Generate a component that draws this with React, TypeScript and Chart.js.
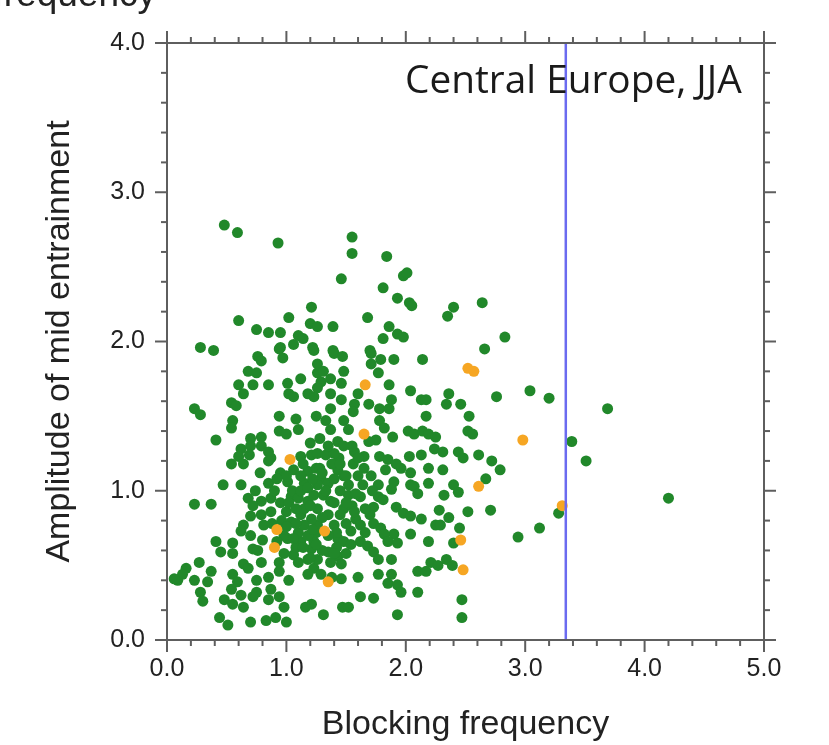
import React, { useEffect, useRef } from 'react';
import { Chart, registerables } from 'chart.js';
Chart.register(...registerables);

// ---- axis / label data ----
const xMajorTicks = [0, 1, 2, 3, 4, 5];
const yMajorTicks = [0, 1, 2, 3, 4];
const minorStep = 0.2;
const thresholdX = 3.34;
const regionLabel = 'Central Europe, JJA';
const xTitle = 'Blocking frequency';
const yTitle = 'Amplitude of mid entrainment';
const clippedTopText = 'Blocking frequency';

type P = [number, number];

// ---- series (x = blocking frequency, y = amplitude) ----
const orangePoints: P[] = [
  [1.03, 1.21], [0.92, 0.74], [0.90, 0.62], [1.66, 1.71], [1.65, 1.38], [2.52, 1.82],
  [2.57, 1.80], [1.32, 0.73], [1.35, 0.39], [2.46, 0.67], [2.48, 0.47], [2.61, 1.03],
  [3.31, 0.90], [2.98, 1.34],
];

const greenUpper: P[] = [
  [0.48, 2.78], [0.59, 2.73], [0.93, 2.66], [1.55, 2.70], [1.55, 2.59], [1.84, 2.57],
  [1.46, 2.42], [1.98, 2.44], [2.01, 2.46], [1.81, 2.36], [1.93, 2.29], [2.03, 2.26],
  [2.05, 2.24], [2.40, 2.23], [2.35, 2.17], [2.64, 2.26], [1.21, 2.23], [0.60, 2.14],
  [1.02, 2.16], [0.75, 2.08], [0.85, 2.06], [0.95, 2.06], [1.20, 2.12], [1.26, 2.10],
  [1.10, 2.04], [1.14, 2.02], [0.28, 1.96], [0.39, 1.94], [0.95, 1.96], [1.06, 1.98],
  [1.22, 1.96], [1.68, 2.16], [1.39, 2.10], [1.86, 2.10], [1.93, 2.05], [1.98, 2.03],
  [1.81, 2.02], [1.39, 1.94], [1.70, 1.94], [2.83, 2.03], [2.66, 1.95],
];

const greenMidLeft: P[] = [
  [0.76, 1.90], [0.79, 1.87], [0.94, 1.95], [0.97, 1.89], [0.68, 1.80], [0.75, 1.79],
  [1.26, 1.79], [0.60, 1.71], [0.72, 1.71], [0.85, 1.71], [1.01, 1.72], [1.12, 1.75],
  [0.64, 1.65], [1.02, 1.65], [1.06, 1.63], [1.18, 1.65], [0.54, 1.59], [0.58, 1.57],
  [0.23, 1.55], [0.28, 1.51], [0.94, 1.50], [1.08, 1.48], [0.55, 1.47], [0.54, 1.42],
  [0.94, 1.40], [1.00, 1.38], [1.10, 1.41], [0.70, 1.35], [0.79, 1.36], [0.41, 1.34],
  [0.62, 1.28], [0.70, 1.30], [0.79, 1.30], [0.85, 1.26], [0.60, 1.23], [0.69, 1.24],
  [0.87, 1.22], [1.12, 1.23], [1.21, 1.24], [0.54, 1.18], [0.64, 1.18], [0.85, 1.20],
  [0.95, 1.12], [1.06, 1.14], [1.18, 1.13], [0.47, 1.04], [0.62, 1.04], [0.85, 1.05],
  [1.01, 1.06], [1.15, 1.05],
];

const greenMidRight: P[] = [
  [1.23, 1.94], [1.40, 1.92], [1.47, 1.90], [1.71, 1.92], [1.79, 1.88], [1.71, 1.85],
  [1.90, 1.88], [2.14, 1.88], [1.26, 1.85], [1.31, 1.80], [1.48, 1.80], [1.77, 1.79],
  [1.29, 1.73], [1.37, 1.75], [1.46, 1.72], [1.86, 1.71], [1.60, 1.65], [2.04, 1.67],
  [2.13, 1.61], [2.17, 1.61], [2.36, 1.65], [2.34, 1.58], [2.46, 1.58], [1.26, 1.69],
  [1.37, 1.65], [1.23, 1.63], [1.46, 1.61], [1.37, 1.55], [1.57, 1.58], [1.69, 1.58],
  [1.78, 1.55], [1.88, 1.61], [1.86, 1.55], [2.17, 1.50], [1.56, 1.53], [1.25, 1.50],
  [1.33, 1.47], [1.37, 1.41], [1.48, 1.47], [1.52, 1.41], [1.43, 1.33], [1.78, 1.47],
  [1.82, 1.42], [1.89, 1.36], [1.75, 1.34], [2.02, 1.40], [2.07, 1.38], [2.14, 1.40],
  [2.19, 1.38], [2.25, 1.36], [1.57, 1.26], [1.69, 1.33], [1.26, 1.25], [1.33, 1.24],
  [1.44, 1.22], [1.56, 1.18], [1.65, 1.23], [1.78, 1.23], [1.85, 1.21], [1.92, 1.18],
  [2.03, 1.23], [2.13, 1.24], [2.24, 1.28], [2.31, 1.26], [2.44, 1.26], [2.48, 1.22],
  [1.25, 1.15], [1.29, 1.08], [1.43, 1.14], [1.48, 1.10], [1.65, 1.15], [1.71, 1.10],
  [1.83, 1.14], [1.96, 1.15], [2.04, 1.12], [2.19, 1.15], [2.31, 1.14], [2.04, 1.04],
  [2.19, 1.05], [1.90, 1.06], [1.77, 1.04], [2.52, 1.40], [2.53, 1.50], [2.76, 1.63],
  [2.56, 1.38], [2.61, 1.24], [2.72, 1.20], [2.79, 1.14], [2.67, 1.08],
];

const greenLowRight: P[] = [
  [1.64, 1.04], [1.88, 1.01], [2.07, 1.03], [2.10, 0.98], [1.52, 0.97], [1.62, 0.96],
  [1.77, 0.96], [1.81, 0.94], [1.48, 0.88], [1.73, 0.89], [1.70, 0.84], [1.92, 0.89],
  [1.98, 0.85], [2.04, 0.83], [2.13, 0.81], [2.28, 0.87], [1.58, 0.81], [1.62, 0.77],
  [1.73, 0.78], [1.79, 0.75], [1.90, 0.71], [2.04, 0.71], [2.25, 0.77], [1.54, 0.73],
  [1.82, 0.71], [1.85, 0.66], [1.93, 0.65], [2.19, 0.66], [1.43, 0.68], [1.48, 0.66],
  [1.54, 0.64], [1.62, 0.66], [1.68, 0.63], [1.73, 0.59], [1.77, 0.54], [1.43, 0.56],
  [1.46, 0.51], [1.88, 0.54], [2.21, 0.52], [2.27, 0.50], [2.34, 0.54], [2.10, 0.46],
  [2.17, 0.46], [1.77, 0.44], [1.88, 0.44], [1.60, 0.42], [1.46, 0.41], [1.23, 0.48],
  [1.29, 0.44], [1.38, 0.42], [1.85, 0.38], [1.93, 0.37], [1.96, 0.32], [2.10, 0.32],
  [1.62, 0.29], [1.73, 0.28], [1.47, 0.22], [1.52, 0.22], [1.31, 0.17], [1.93, 0.17],
  [1.21, 0.24], [1.26, 1.04], [1.31, 0.97], [1.37, 0.93], [1.26, 0.88], [1.35, 0.84],
  [1.40, 0.77], [1.26, 0.77], [1.23, 0.66], [1.35, 0.59], [1.26, 0.54], [1.37, 0.52],
  [2.40, 1.04], [2.44, 0.99], [2.32, 0.97], [2.36, 0.82], [2.52, 0.86], [2.71, 0.87],
  [2.45, 0.75], [2.40, 0.65], [2.29, 0.77], [2.39, 0.50], [2.47, 0.27], [2.47, 0.15],
];

const greenLowLeft: P[] = [
  [0.23, 0.91], [0.37, 0.91], [0.68, 0.95], [0.79, 0.93], [0.87, 0.95], [1.04, 0.96],
  [1.18, 0.93], [1.23, 0.97], [0.64, 0.77], [0.70, 0.83], [0.62, 0.73], [0.79, 0.84],
  [0.87, 0.86], [0.81, 0.77], [1.04, 0.79], [1.12, 0.84], [1.21, 0.81], [0.41, 0.66],
  [0.55, 0.65], [0.45, 0.59], [0.55, 0.58], [0.72, 0.61], [0.80, 0.67], [1.01, 0.68],
  [1.12, 0.66], [1.21, 0.61], [0.27, 0.52], [0.64, 0.51], [0.79, 0.52], [0.68, 0.48],
  [0.94, 0.52], [1.06, 0.57], [1.18, 0.54], [0.37, 0.46], [0.16, 0.48], [0.09, 0.40],
  [0.23, 0.40], [0.34, 0.39], [0.55, 0.44], [0.59, 0.39], [0.75, 0.40], [0.85, 0.42],
  [0.94, 0.46], [1.02, 0.40], [1.18, 0.44], [0.28, 0.32], [0.54, 0.34], [0.62, 0.30],
  [0.75, 0.32], [0.87, 0.34], [0.30, 0.26], [0.48, 0.27], [0.55, 0.24], [0.64, 0.22],
  [0.72, 0.29], [0.85, 0.27], [0.94, 0.29], [0.98, 0.22], [1.16, 0.22], [0.44, 0.15],
  [0.51, 0.10], [0.70, 0.12], [0.83, 0.13], [0.91, 0.15], [1.00, 0.12], [0.13, 0.44],
  [0.06, 0.41],
];

const greenDenseCore: P[] = [
  [1.05, 1.00], [1.10, 0.95], [1.15, 0.88], [1.20, 0.90], [1.25, 0.72], [1.10, 0.72],
  [1.00, 0.86], [1.15, 0.77], [1.30, 0.60], [1.20, 0.55], [1.08, 0.62], [1.28, 1.15],
  [1.35, 1.05], [1.45, 1.00], [1.40, 0.92], [1.45, 0.84], [1.38, 1.18], [1.50, 1.10],
  [1.12, 1.10], [1.00, 1.10], [0.96, 0.80], [0.98, 0.70], [1.06, 0.68], [1.18, 0.70],
  [1.30, 0.82], [1.42, 0.62], [1.50, 0.78], [1.55, 0.90], [1.60, 1.10], [1.55, 1.30],
  [1.48, 1.30], [1.40, 1.25],
  [0.90, 1.00], [0.95, 0.92], [1.02, 0.92], [1.08, 0.88], [1.12, 1.00], [1.18, 1.02],
  [1.22, 1.08], [1.30, 1.12], [1.33, 1.00], [1.40, 1.08], [1.45, 1.18], [1.52, 1.04],
  [1.58, 0.98], [1.57, 0.86], [1.50, 0.92], [1.42, 0.72], [1.35, 0.70], [1.22, 0.74],
  [1.14, 0.62], [1.08, 0.78], [1.00, 0.76], [0.92, 0.66], [0.98, 0.58], [1.10, 0.52],
  [1.25, 0.64], [1.40, 0.58], [1.50, 0.58], [1.66, 0.72], [1.66, 0.88], [1.72, 1.00],
  [1.60, 1.22], [1.35, 1.30], [1.28, 1.35], [1.20, 1.32], [1.14, 1.18], [0.92, 1.08],
  [0.78, 1.12], [0.74, 1.00], [0.72, 0.90], [0.88, 0.78], [0.70, 0.70], [0.76, 0.60],
];

const greenOutliers: P[] = [
  [4.20, 0.95], [3.69, 1.55], [3.51, 1.20], [3.39, 1.33], [3.20, 1.62], [3.04, 1.67],
  [3.28, 0.85], [3.12, 0.75], [2.94, 0.69],
];

const greenPoints: P[] = [
  ...greenUpper, ...greenMidLeft, ...greenMidRight, ...greenLowRight,
  ...greenLowLeft, ...greenDenseCore, ...greenOutliers,
];

const toXY = (arr: P[]) => arr.map(([x, y]) => ({ x, y }));

const FONT = "'Liberation Sans', Arial, Helvetica, sans-serif";

const framePlugin = {
  id: 'framePlugin',
  afterDraw(chart: any) {
    const { ctx, chartArea: a, scales } = chart;
    const xs = scales.x;
    const ys = scales.y;
    ctx.save();
    ctx.strokeStyle = '#5e5e5e';
    ctx.lineWidth = 2;
    ctx.strokeRect(a.left, a.top, a.right - a.left, a.bottom - a.top);
    const seg = (x1: number, y1: number, x2: number, y2: number) => {
      ctx.beginPath(); ctx.moveTo(x1, y1); ctx.lineTo(x2, y2); ctx.stroke();
    };
    const xMax = xMajorTicks[xMajorTicks.length - 1];
    const yMax = yMajorTicks[yMajorTicks.length - 1];
    const nx = Math.round(xMax / minorStep);
    for (let i = 0; i <= nx; i++) {
      const v = i * minorStep;
      const major = xMajorTicks.some((t) => Math.abs(t - v) < 1e-6);
      const L = major ? 12 : 6;
      const px = xs.getPixelForValue(v);
      seg(px, a.bottom, px, a.bottom + L);
      seg(px, a.top, px, a.top - L);
    }
    const ny = Math.round(yMax / minorStep);
    for (let i = 0; i <= ny; i++) {
      const v = i * minorStep;
      const major = yMajorTicks.some((t) => Math.abs(t - v) < 1e-6);
      const L = major ? 12 : 6;
      const py = ys.getPixelForValue(v);
      seg(a.left, py, a.left - L, py);
      seg(a.right, py, a.right + L, py);
    }
    // region label
    ctx.fillStyle = '#1a1a1a';
    ctx.textBaseline = 'alphabetic';
    ctx.textAlign = 'left';
    ctx.font = `100px 'Open Sans', 'Noto Sans', sans-serif`;
    const w100 = ctx.measureText(regionLabel).width;
    const size = (337 / w100) * 100;
    ctx.font = `${size.toFixed(1)}px 'Open Sans', 'Noto Sans', sans-serif`;
    ctx.fillText(regionLabel, a.left + 238, a.top + 50);
    // clipped text from a figure above
    ctx.font = `37px ${FONT}`;
    ctx.textAlign = 'right';
    ctx.fillStyle = '#222';
    ctx.fillText(clippedTopText, 156, 6);
    ctx.restore();
  },
};

export default function App() {
  const ref = useRef<HTMLCanvasElement | null>(null);
  useEffect(() => {
    document.body.style.margin = '0';
    const canvas = ref.current;
    if (!canvas) return;
    const chart = new Chart(canvas, {
      type: 'scatter',
      data: {
        datasets: [
          {
            type: 'line',
            label: 'threshold',
            data: [{ x: thresholdX, y: yMajorTicks[0] }, { x: thresholdX, y: yMajorTicks[yMajorTicks.length - 1] }],
            borderColor: '#6b6bf0',
            borderWidth: 2.5,
            pointRadius: 0,
            showLine: true,
            order: 0,
          } as any,
          {
            label: 'orange',
            data: toXY(orangePoints),
            backgroundColor: '#f6a623',
            borderWidth: 0,
            pointRadius: 5.5,
            order: 1,
          },
          {
            label: 'green',
            data: toXY(greenPoints),
            backgroundColor: '#21882a',
            borderWidth: 0,
            pointRadius: 5.5,
            order: 2,
          },
        ],
      },
      options: {
        responsive: false,
        animation: false,
        layout: { padding: { top: 43, right: 65, left: 0, bottom: 0 } },
        plugins: { legend: { display: false }, tooltip: { enabled: false } },
        scales: {
          x: {
            type: 'linear',
            min: xMajorTicks[0],
            max: xMajorTicks[xMajorTicks.length - 1],
            ticks: {
              stepSize: 1,
              callback: (v: any) => Number(v).toFixed(1),
              font: { size: 25, family: FONT },
              color: '#222',
              padding: 6,
            },
            grid: { display: false, drawTicks: true, tickLength: 8 },
            border: { display: false },
            title: {
              display: true,
              text: xTitle,
              font: { size: 34, family: FONT },
              color: '#222',
              padding: { top: 0, bottom: 0 },
            },
            afterFit: (s: any) => { s.height = 105; },
          },
          y: {
            type: 'linear',
            min: yMajorTicks[0],
            max: yMajorTicks[yMajorTicks.length - 1],
            ticks: {
              stepSize: 1,
              callback: (v: any) => Number(v).toFixed(1),
              font: { size: 25, family: FONT },
              color: '#222',
              padding: 10,
            },
            grid: { display: false, drawTicks: true, tickLength: 12 },
            border: { display: false },
            title: {
              display: true,
              text: yTitle,
              font: { size: 34, family: FONT },
              color: '#222',
              padding: { top: 39, bottom: 0 },
            },
            afterFit: (s: any) => { s.width = 167; },
          },
        },
      },
      plugins: [framePlugin],
    });
    return () => chart.destroy();
  }, []);
  return <canvas ref={ref} width={829} height={745} style={{ display: 'block' }} />;
}
